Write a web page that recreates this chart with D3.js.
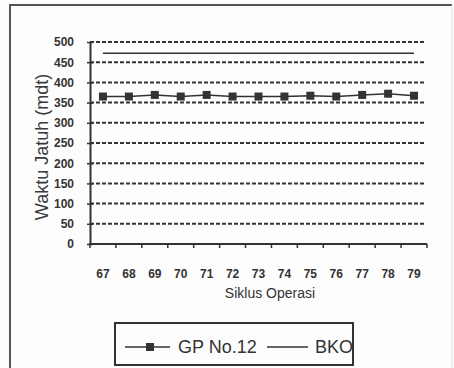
<!DOCTYPE html>
<html>
<head>
<meta charset="utf-8">
<script src="https://cdn.jsdelivr.net/npm/d3@7"></script>
<style>
  body { margin: 0; background: #fdfdfd; }
  svg { display: block; font-family: Arial, "Liberation Sans", sans-serif; }
</style>
</head>
<body>
<div class="chart"></div>
<script>
// data
let cycles = ["67", "68", "69", "70", "71", "72", "73", "74", "75", "76", "77", "78", "79"];
let gp_values = [365, 365, 369, 365, 369, 365, 365, 365, 367, 365, 369, 372, 367];
let bko_values = [472, 472, 472, 472, 472, 472, 472, 472, 472, 472, 472, 472, 472];
let y_ticks = [0, 50, 100, 150, 200, 250, 300, 350, 400, 450, 500];

function draw_chart(){
    const width = 454;
    const height = 368;
    const ink = "#333";

    const svg = d3.select(".chart")
        .append("svg")
        .attr("width", width)
        .attr("height", height)

    // outer frame, runs off the bottom
    svg.append("path")
        .attr("d", "M10,400 L10,5 L452,5")
        .attr("fill", "none")
        .attr("stroke", "#555")
        .attr("stroke-width", 2)
    svg.append("line")
        .attr("x1", 452).attr("x2", 452)
        .attr("y1", 5).attr("y2", 368)
        .attr("stroke", "#ddd")

    const x = d3.scaleBand()
        .domain(cycles)
        .range([90, 427])

    const y = d3.scaleLinear()
        .domain([0, 500])
        .range([244, 42])

    // dashed gridlines
    svg.selectAll(".grid")
        .data(y_ticks.filter(d => d > 0))
        .enter()
        .append("line")
        .attr("class", "grid")
        .attr("x1", 90)
        .attr("x2", 426)
        .attr("y1", d => y(d))
        .attr("y2", d => y(d))
        .attr("stroke", ink)
        .attr("stroke-width", 2)
        .attr("stroke-dasharray", "4,2")

    // y axis
    const yAxis = svg.append("g")
        .attr("transform", "translate(90,0)")
        .call(d3.axisLeft(y).tickValues(y_ticks).tickSizeInner(3).tickSizeOuter(0).tickPadding(13))
    yAxis.select(".domain").attr("stroke", ink).attr("stroke-width", 2)
    yAxis.selectAll(".tick line").attr("stroke", ink).attr("stroke-width", 1.5).attr("x2", -3).attr("x1", 3)
    yAxis.selectAll(".tick text")
        .attr("fill", ink)
        .attr("font-size", "12px")
        .attr("font-weight", "bold")
        .attr("font-family", "Arial, 'Liberation Sans', sans-serif")

    // x axis
    svg.append("line")
        .attr("x1", 89).attr("x2", 427)
        .attr("y1", 244).attr("y2", 244)
        .attr("stroke", ink)
        .attr("stroke-width", 2)

    let bounds = cycles.map(c => x(c)).concat([x.range()[1]]);
    svg.selectAll(".xtick")
        .data(bounds)
        .enter()
        .append("line")
        .attr("class", "xtick")
        .attr("x1", d => d).attr("x2", d => d)
        .attr("y1", 244).attr("y2", 248)
        .attr("stroke", ink)
        .attr("stroke-width", 1.5)

    svg.selectAll(".xlabel")
        .data(cycles)
        .enter()
        .append("text")
        .attr("class", "xlabel")
        .attr("x", d => x(d) + x.bandwidth() / 2)
        .attr("y", 278)
        .attr("text-anchor", "middle")
        .attr("font-size", "12px")
        .attr("font-weight", "bold")
        .attr("fill", ink)
        .text(d => d)

    svg.append("text")
        .attr("x", 270)
        .attr("y", 298)
        .attr("text-anchor", "middle")
        .attr("font-size", "14px")
        .attr("fill", ink)
        .text("Siklus Operasi")

    svg.append("text")
        .attr("transform", "translate(48,147) rotate(-90)")
        .attr("text-anchor", "middle")
        .attr("font-size", "18px")
        .attr("fill", "#3a3a3a")
        .text("Waktu Jatuh (mdt)")

    // BKO limit line
    const line = d3.line()
        .x((d, i) => x(cycles[i]) + x.bandwidth() / 2)
        .y(d => y(d))

    svg.append("path")
        .datum(bko_values)
        .attr("d", line)
        .attr("fill", "none")
        .attr("stroke", ink)
        .attr("stroke-width", 1.5)

    // GP No.12 series
    svg.append("path")
        .datum(gp_values)
        .attr("d", line)
        .attr("fill", "none")
        .attr("stroke", ink)
        .attr("stroke-width", 1.5)

    svg.selectAll(".marker")
        .data(gp_values)
        .enter()
        .append("rect")
        .attr("class", "marker")
        .attr("x", (d, i) => x(cycles[i]) + x.bandwidth() / 2 - 4)
        .attr("y", d => y(d) - 4)
        .attr("width", 8)
        .attr("height", 8)
        .attr("fill", "#333")

    // legend
    const legend = svg.append("g")
    legend.append("line")
        .attr("x1", 125).attr("x2", 170)
        .attr("y1", 347).attr("y2", 347)
        .attr("stroke", ink).attr("stroke-width", 1.5)
    legend.append("rect")
        .attr("x", 146).attr("y", 343)
        .attr("width", 8).attr("height", 8)
        .attr("fill", "#333")
    legend.append("text")
        .attr("x", 178).attr("y", 353)
        .attr("font-size", "18px")
        .attr("fill", ink)
        .text("GP No.12")
    legend.append("line")
        .attr("x1", 267).attr("x2", 308)
        .attr("y1", 347).attr("y2", 347)
        .attr("stroke", ink).attr("stroke-width", 1.5)
    legend.append("text")
        .attr("x", 315).attr("y", 353)
        .attr("font-size", "18px")
        .attr("fill", ink)
        .text("BKO")
    legend.append("rect")
        .attr("x", 115).attr("y", 323)
        .attr("width", 238).attr("height", 42)
        .attr("fill", "none")
        .attr("stroke", ink)
        .attr("stroke-width", 2)
}

draw_chart();
</script>
</body>
</html>
